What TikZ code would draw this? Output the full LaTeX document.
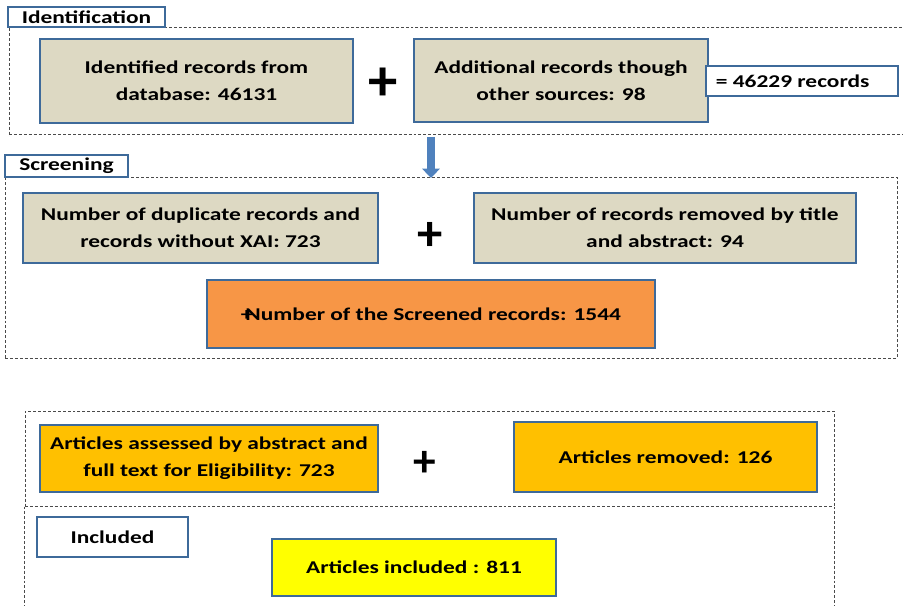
\documentclass[tikz,border=0pt]{standalone}
\usepackage{fontspec}
\setmainfont{Carlito}[FakeStretch=1.3]
\newfontfamily\plusfont{Carlito}
\usetikzlibrary{fit,arrows.meta}
\definecolor{boxblue}{HTML}{3E6A9A}
\definecolor{tanfill}{HTML}{DDD9C3}
\definecolor{orangefill}{HTML}{F79646}
\definecolor{goldfill}{HTML}{FFC000}
\definecolor{yellowfill}{HTML}{FFFF00}
\definecolor{arrowblue}{HTML}{4F81BD}
\definecolor{dashgray}{HTML}{4A4A4A}
\tikzset{
  box/.style={draw=boxblue, line width=1.6pt, inner sep=0pt, align=center,
    font=\bfseries\fontsize{13.5}{20}\selectfont},
  pbox/.style 2 args={minimum width=#1*0.75pt, minimum height=#2*0.75pt},
  tanbox/.style={box, fill=tanfill},
  orangebox/.style={box, fill=orangefill},
  goldbox/.style={box, fill=goldfill},
  yellowbox/.style={box, fill=yellowfill},
  labelbox/.style={box, fill=white},
  dashline/.style={draw=dashgray, line width=0.75pt, dash pattern=on 2.2pt off 1.5pt},
  dashbox/.style={dashline, inner sep=0pt},
  plussign/.style={font=\plusfont\bfseries\fontsize{#1}{#1}\selectfont, inner sep=0pt},
  bigarrow/.style={draw=arrowblue, line width=6pt, -{Triangle[length=7pt,width=13pt]}}
}
\begin{document}
\begin{tikzpicture}[x=0.75pt,y=-0.75pt]
\useasboundingbox (0,0) rectangle (903,606);
\clip (0,0) rectangle (903,606);
% dashed stage frames
\node[dashbox, fit={(9,28) (915,135)}] (idframe) {};
\node[dashbox, fit={(5,178) (897,358)}] (scrframe) {};
\node[dashbox, fit={(25,411) (834,506)}] (eligframe) {};
\draw[dashline] (eligframe.south west) -- ++(0,-90pt);
\draw[dashline] (eligframe.south east) -- ++(0,-90pt);
% stage labels
\node[labelbox, pbox={157}{20}] (idlabel) at (86.5,17) {Identification};
\node[labelbox, pbox={123}{22}] (scrlabel) at (66.5,166) {Screening};
\node[labelbox, pbox={151}{40}] (incllabel) at (112.5,537) {Included};
% identification
\node[tanbox, pbox={313}{84}] (b1) at (196.5,81) {Identified records  from\\database: 46131};
\node[plussign=44] (p1) at (383,84) {+};
\node[tanbox, pbox={294}{83}] (b2) at (561,80.5) {Additional records though\\other sources: 98};
\node[labelbox, pbox={192}{30}] (total) at (802,81) {= 46229 records\hspace{14pt}};
% arrow
\coordinate (a1) at (431,137);
\coordinate (a2) at (431,178);
\draw[bigarrow] (a1) -- (a2);
% screening
\node[tanbox, pbox={355}{70}] (b3) at (200.5,228) {Number of duplicate records and\\records without XAI: 723};
\node[plussign=38] (p2) at (430,236) {+};
\node[tanbox, pbox={382}{70}] (b4) at (665,228) {Number of records  removed by title\\and abstract: 94};
\node[orangebox, pbox={448}{68}] (b5) at (431,314) {+\kern-0.4em Number of the Screened  records: 1544};
% eligibility
\node[goldbox, pbox={338}{67}] (b6) at (209,458.5) {Articles assessed by  abstract and\\full text for Eligibility: 723};
\node[plussign=34] (p3) at (425,464) {+};
\node[goldbox, pbox={303}{70}] (b7) at (665.5,457) {Articles removed: 126};
% included
\node[yellowbox, pbox={284}{57}] (b8) at (414,567.5) {Articles included : 811};
\end{tikzpicture}
\end{document}
